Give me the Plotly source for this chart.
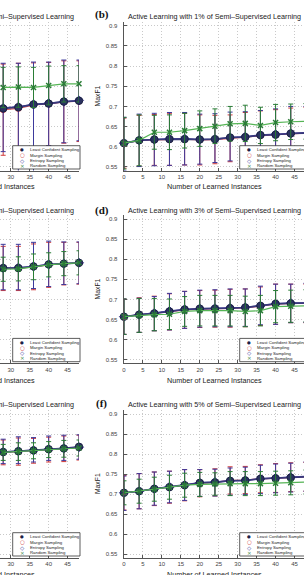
import plotly.graph_objects as go

# ---------------- data ----------------
X_FULL = [0, 4, 8, 12, 16, 20, 24, 28, 32, 36, 40, 44, 48]
X_PART = [28, 32, 36, 40, 44, 48]

LEGEND_LABELS = ["Least Confident Sampling", "Margin Sampling", "Entropy Sampling", "Random Sampling"]
Y_TICKS = [0.55, 0.6, 0.65, 0.7, 0.75, 0.8, 0.85, 0.9]
Y_TICK_LABELS = ["0.55", "0.6", "0.65", "0.7", "0.75", "0.8", "0.85", "0.9"]
X_TICKS = [0, 5, 10, 15, 20, 25, 30, 35, 40, 45]

# (a) 0%
A_LC = [0.695, 0.698, 0.705, 0.707, 0.712, 0.714]
A_MS = [0.692, 0.695, 0.704, 0.706, 0.711, 0.713]
A_ES = [0.696, 0.699, 0.705, 0.708, 0.712, 0.715]
A_RS = [0.747, 0.748, 0.747, 0.752, 0.756, 0.756]
A_ES_UP = [0.111, 0.108, 0.105, 0.102, 0.103, 0.100]
A_ES_DN = [0.108, 0.180, 0.175, 0.105, 0.102, 0.100]
A_MS_ERR = [0.113, 0.112, 0.104, 0.103, 0.102, 0.100]
A_RS_ERR = [0.050, 0.050, 0.050, 0.048, 0.045, 0.045]

# (b) 1%
B_LC = [0.609, 0.616, 0.618, 0.619, 0.619, 0.618, 0.619, 0.623, 0.624, 0.629, 0.630, 0.633, 0.634]
B_MS = [0.609, 0.615, 0.617, 0.618, 0.619, 0.617, 0.618, 0.621, 0.624, 0.628, 0.630, 0.632, 0.634]
B_ES = [0.609, 0.616, 0.618, 0.620, 0.620, 0.618, 0.619, 0.623, 0.625, 0.629, 0.631, 0.633, 0.635]
B_RS = [0.609, 0.616, 0.636, 0.636, 0.640, 0.645, 0.651, 0.657, 0.658, 0.653, 0.660, 0.662, 0.663]
B_ES_UP = [0.064, 0.065, 0.065, 0.065, 0.065, 0.063, 0.063, 0.063, 0.062, 0.061, 0.063, 0.067, 0.065]
B_ES_DN = [0.068, 0.065, 0.065, 0.066, 0.065, 0.061, 0.058, 0.058, 0.060, 0.062, 0.062, 0.064, 0.064]
B_MS_ERR = [0.062, 0.063, 0.063, 0.064, 0.064, 0.062, 0.060, 0.058, 0.061, 0.061, 0.062, 0.064, 0.064]
B_RS_ERR = [0.064, 0.063, 0.042, 0.043, 0.043, 0.044, 0.043, 0.043, 0.045, 0.045, 0.045, 0.044, 0.044]

# (c) 2%
C_LC = [0.778, 0.778, 0.782, 0.787, 0.789, 0.791]
C_MS = [0.777, 0.777, 0.781, 0.786, 0.789, 0.790]
C_ES = [0.778, 0.779, 0.782, 0.787, 0.789, 0.791]
C_RS = [0.775, 0.776, 0.781, 0.786, 0.789, 0.791]
C_ES_UP = [0.059, 0.058, 0.060, 0.058, 0.054, 0.052]
C_ES_DN = [0.054, 0.055, 0.055, 0.055, 0.052, 0.052]
C_MS_ERR = [0.055, 0.055, 0.057, 0.056, 0.053, 0.052]
C_RS_ERR = [0.030, 0.030, 0.032, 0.030, 0.030, 0.030]

# (d) 3%
D_LC = [0.657, 0.662, 0.665, 0.670, 0.675, 0.677, 0.677, 0.678, 0.680, 0.684, 0.689, 0.690, 0.691]
D_MS = [0.657, 0.661, 0.665, 0.669, 0.674, 0.676, 0.677, 0.678, 0.679, 0.683, 0.688, 0.690, 0.690]
D_ES = [0.657, 0.662, 0.666, 0.671, 0.675, 0.677, 0.678, 0.679, 0.680, 0.684, 0.689, 0.691, 0.691]
D_RS = [0.657, 0.660, 0.662, 0.663, 0.670, 0.672, 0.672, 0.672, 0.670, 0.672, 0.682, 0.683, 0.684]
D_ES_UP = [0.044, 0.041, 0.041, 0.044, 0.045, 0.046, 0.046, 0.047, 0.046, 0.049, 0.049, 0.047, 0.049]
D_ES_DN = [0.044, 0.044, 0.044, 0.047, 0.047, 0.046, 0.046, 0.047, 0.047, 0.047, 0.051, 0.049, 0.048]
D_MS_ERR = [0.044, 0.043, 0.043, 0.045, 0.046, 0.046, 0.046, 0.047, 0.047, 0.048, 0.050, 0.048, 0.048]
D_RS_ERR = [0.044, 0.042, 0.040, 0.038, 0.037, 0.038, 0.038, 0.038, 0.038, 0.038, 0.040, 0.040, 0.040]

# (e) 4%
E_LC = [0.805, 0.807, 0.809, 0.812, 0.814, 0.818]
E_MS = [0.804, 0.806, 0.808, 0.811, 0.813, 0.816]
E_ES = [0.805, 0.807, 0.809, 0.812, 0.814, 0.817]
E_RS = [0.804, 0.806, 0.808, 0.811, 0.813, 0.815]
E_ES_UP = [0.032, 0.036, 0.032, 0.033, 0.033, 0.031]
E_ES_DN = [0.029, 0.031, 0.029, 0.028, 0.030, 0.030]
E_MS_ERR = [0.031, 0.034, 0.031, 0.031, 0.032, 0.031]
E_RS_ERR = [0.020, 0.022, 0.020, 0.020, 0.021, 0.020]

# (f) 5%
F_LC = [0.703, 0.707, 0.713, 0.717, 0.722, 0.728, 0.729, 0.733, 0.734, 0.738, 0.739, 0.741, 0.743]
F_MS = [0.703, 0.707, 0.713, 0.717, 0.722, 0.727, 0.729, 0.734, 0.735, 0.738, 0.740, 0.742, 0.743]
F_ES = [0.703, 0.707, 0.713, 0.718, 0.722, 0.728, 0.730, 0.733, 0.734, 0.738, 0.740, 0.742, 0.744]
F_RS = [0.703, 0.707, 0.712, 0.717, 0.722, 0.724, 0.725, 0.726, 0.726, 0.726, 0.727, 0.728, 0.730]
F_ES_UP = [0.042, 0.044, 0.042, 0.039, 0.039, 0.033, 0.032, 0.032, 0.033, 0.034, 0.035, 0.035, 0.036]
F_ES_DN = [0.044, 0.044, 0.041, 0.040, 0.038, 0.034, 0.035, 0.036, 0.035, 0.037, 0.037, 0.037, 0.037]
F_MS_ERR = [0.043, 0.044, 0.042, 0.040, 0.039, 0.034, 0.034, 0.034, 0.034, 0.035, 0.036, 0.036, 0.036]
F_RS_ERR = [0.030, 0.030, 0.030, 0.030, 0.030, 0.030, 0.028, 0.030, 0.030, 0.030, 0.030, 0.030, 0.030]

PANELS = [
    ("a", "0%", 0, 0, X_PART, A_LC, A_MS, A_ES, A_RS, A_ES_UP, A_ES_DN, A_MS_ERR, A_RS_ERR),
    ("b", "1%", 1, 0, X_FULL, B_LC, B_MS, B_ES, B_RS, B_ES_UP, B_ES_DN, B_MS_ERR, B_RS_ERR),
    ("c", "2%", 0, 1, X_PART, C_LC, C_MS, C_ES, C_RS, C_ES_UP, C_ES_DN, C_MS_ERR, C_RS_ERR),
    ("d", "3%", 1, 1, X_FULL, D_LC, D_MS, D_ES, D_RS, D_ES_UP, D_ES_DN, D_MS_ERR, D_RS_ERR),
    ("e", "4%", 0, 2, X_PART, E_LC, E_MS, E_ES, E_RS, E_ES_UP, E_ES_DN, E_MS_ERR, E_RS_ERR),
    ("f", "5%", 1, 2, X_FULL, F_LC, F_MS, F_ES, F_RS, F_ES_UP, F_ES_DN, F_MS_ERR, F_RS_ERR),
]

# ---------------- layout geometry ----------------
W, H = 304, 575
FONT = "Liberation Sans, Arial, sans-serif"


def px(x):
    return x / W


def py(y):
    return (H - y) / H


COLS = [
    dict(dom=[0.0, 79.0 / W], rng=[27.16, 48.0], R=79.0, center=-12.2),
    dict(dom=[123.6 / W, 1.0], rng=[-0.1, 47.5], R=306.0, center=214.8),
]
ROWS = [
    dict(top=21.7, bot=170.6, title_y=16.0, lab_y=15.0, xt_y=186.0),
    dict(top=215.0, bot=363.3, title_y=210.0, lab_y=210.0, xt_y=380.7),
    dict(top=410.0, bot=557.6, title_y=404.0, lab_y=403.3, xt_y=574.0),
]

C_MS_COL, C_ES_COL, C_LC_COL, C_RS_COL = "#d03a3a", "#3d3a9c", "#2a3160", "#2a7d36"
GRID = "#c9c9c9"
TEXT = "#1a1a1a"

fig = go.Figure()
layout = dict(
    width=W, height=H, autosize=False,
    margin=dict(l=0, r=0, t=0, b=0, pad=0),
    paper_bgcolor="white", plot_bgcolor="white",
    font=dict(family=FONT, color=TEXT),
    showlegend=False,
)
annotations = []
shapes = []

for i, (lab, pct, c, r, xs, lc, ms, es, rs, es_up, es_dn, ms_err, rs_err) in enumerate(PANELS):
    n = i + 1
    xa, ya = f"x{n}", f"y{n}"
    col, row = COLS[c], ROWS[r]
    left = (c == 0)

    layout[f"xaxis{n}"] = dict(
        domain=col["dom"], range=col["rng"], anchor=ya,
        tickvals=X_TICKS, showgrid=True, gridcolor=GRID, griddash="1px,2px", gridwidth=1,
        zeroline=False, showline=True, linecolor="#555", linewidth=1,
        ticks="inside", ticklen=3, tickcolor="#555",
        tickfont=dict(size=6, family=FONT, color="#444"), automargin=False, fixedrange=True,
    )
    layout[f"yaxis{n}"] = dict(
        domain=[py(row["bot"]), py(row["top"])], range=[0.541, 0.91], anchor=xa,
        tickvals=Y_TICKS, ticktext=Y_TICK_LABELS,
        showgrid=True, gridcolor=GRID, griddash="1px,2px", gridwidth=1,
        zeroline=False, showline=not left, linecolor="#555", linewidth=1,
        ticks="" if left else "inside", ticklen=3, tickcolor="#555",
        showticklabels=not left, ticklabelstandoff=4,
        tickfont=dict(size=6, family=FONT, color="#444"), automargin=False, fixedrange=True,
    )

    series = [
        (ms, dict(type="data", array=ms_err, color=C_MS_COL, thickness=1, width=2.5),
         dict(color="#d04848", width=1.2),
         dict(symbol="circle-open", size=6, color=C_MS_COL, line=dict(width=1, color=C_MS_COL))),
        (es, dict(type="data", symmetric=False, array=es_up, arrayminus=es_dn, color=C_ES_COL, thickness=1, width=2.5),
         dict(color="#4a45a3", width=1.5),
         dict(symbol="diamond-open", size=7, color=C_ES_COL, line=dict(width=1, color=C_ES_COL))),
        (lc, None,
         dict(color="#38387a", width=1.6),
         dict(symbol="circle", size=7.5, color=C_LC_COL, line=dict(width=0.8, color="#141a38"))),
        (rs, dict(type="data", array=rs_err, color=C_RS_COL, thickness=1, width=2.5),
         dict(color="#55b455", width=1.2),
         dict(symbol="x-thin-open", size=5, color=C_RS_COL, line=dict(width=1.5, color=C_RS_COL))),
    ]
    for ys, err, line, marker in series:
        kw = dict(x=xs, y=ys, xaxis=xa, yaxis=ya, showlegend=False, hoverinfo="skip")
        t = go.Scatter(mode="lines", line=line, cliponaxis=True, **kw)
        if err is not None:
            t.error_y = err
        fig.add_trace(t)
        fig.add_trace(go.Scatter(mode="markers", marker=marker, cliponaxis=False, **kw))

    # titles / labels
    annotations.append(dict(
        text=f"Active Learning with {pct} of Semi–Supervised Learning",
        x=px(col["center"]), y=py(row["title_y"]), xref="paper", yref="paper",
        xanchor="center", yanchor="middle", showarrow=False,
        font=dict(size=7.2, family=FONT, color=TEXT)))
    annotations.append(dict(
        text="Number of Learned Instances",
        x=px(col["center"]), y=py(row["xt_y"]), xref="paper", yref="paper",
        xanchor="center", yanchor="middle", showarrow=False,
        font=dict(size=7.2, family=FONT, color=TEXT)))
    ylab_x = 97.3 if not left else 97.3 - 227.6
    annotations.append(dict(
        text="MaxF1", textangle=-90,
        x=px(ylab_x), y=py((row["top"] + row["bot"]) / 2), xref="paper", yref="paper",
        xanchor="center", yanchor="middle", showarrow=False,
        font=dict(size=6.8, family=FONT, color=TEXT)))
    lab_x = 101.5 if not left else 101.5 - 227.6
    annotations.append(dict(
        text=f"<b>({lab})</b>",
        x=px(lab_x), y=py(row["lab_y"]), xref="paper", yref="paper",
        xanchor="center", yanchor="middle", showarrow=False,
        font=dict(size=11, family="Liberation Serif, Times New Roman, serif", color="#111")))

    # legend box
    R, B = col["R"], row["bot"]
    shapes.append(dict(type="rect", xref="paper", yref="paper",
                       x0=px(R - 66.3), x1=px(R + 1), y0=py(B - 1.6), y1=py(B - 24.9),
                       fillcolor="white", line=dict(color="#333", width=0.8), layer="above"))
    sym = ["●", "○", "◇", "×"]
    sym_col = ["#1c2148", C_MS_COL, C_ES_COL, C_RS_COL]
    sym_size = [4.2, 5.5, 5.5, 5.5]
    for k, (yy, lbl) in enumerate(zip([B - 21.3, B - 15.6, B - 10.0, B - 4.9], LEGEND_LABELS)):
        annotations.append(dict(
            text=sym[k], x=px(R - 57), y=py(yy), xref="paper", yref="paper",
            xanchor="center", yanchor="middle", showarrow=False, borderpad=0,
            font=dict(size=sym_size[k], family="DejaVu Sans", color=sym_col[k])))
        annotations.append(dict(
            text=lbl, x=px(R - 50.5), y=py(yy), xref="paper", yref="paper",
            xanchor="left", yanchor="middle", showarrow=False, borderpad=0,
            font=dict(size=4.3, family=FONT, color=TEXT)))

layout["annotations"] = annotations
layout["shapes"] = shapes
fig.update_layout(**layout)
fig.write_html("out.html")
